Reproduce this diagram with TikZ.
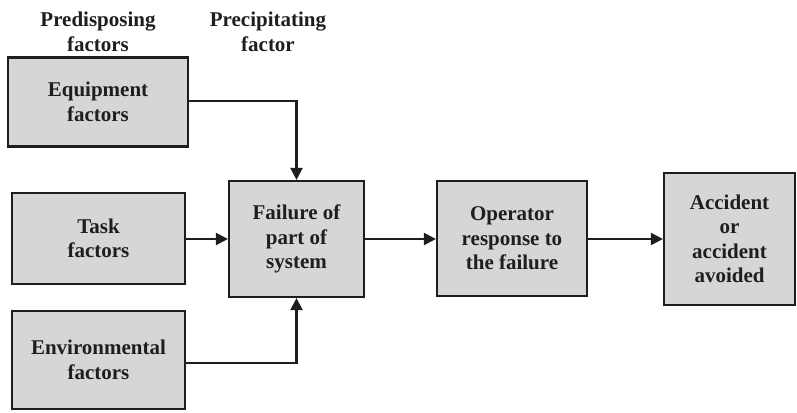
\documentclass[tikz,border=0pt]{standalone}
\usepackage{fontspec}
\setmainfont{Liberation Serif}
\usetikzlibrary{arrows.meta}
\definecolor{boxfill}{HTML}{D6D6D6}
\definecolor{ink}{HTML}{1E1E1E}
\begin{document}
\begin{tikzpicture}[x=1pt,y=-1pt,
  box/.style={draw=ink, line width=2.2pt, fill=boxfill, inner sep=0pt, align=center,
    font=\fontsize{21}{24.5}\selectfont\bfseries, text=ink},
  hdr/.style={align=center, font=\fontsize{21}{24.5}\selectfont\bfseries, text=ink},
  conn/.style={draw=ink, line width=2.2pt, -{Triangle[length=12pt,width=12pt]}}]
\useasboundingbox (0,0) rectangle (797,412);
\node[hdr] (pre) at (98,32) {Predisposing\\factors};
\node[hdr] (prec) at (268,32) {Precipitating\\factor};
\node[box, minimum width=180pt, minimum height=89pt] (equip) at (98,102) {Equipment\\factors};
\node[box, minimum width=173pt, minimum height=91pt] (task) at (98.5,238.5) {Task\\factors};
\node[box, minimum width=173pt, minimum height=98pt] (env) at (98.5,360) {Environmental\\factors};
\node[box, minimum width=135pt, minimum height=116pt] (fail) at (296.5,239) {Failure of\\part of\\system};
\node[box, minimum width=150pt, minimum height=115pt] (oper) at (512,238.5) {Operator\\response to\\the failure};
\node[box, minimum width=131pt, minimum height=132pt] (acc) at (729.5,239) {Accident\\or\\accident\\avoided};
\coordinate (eq) at (equip.east |- 0,101);
\coordinate (en) at (env.east |- 0,363);
\draw[conn] (eq) -| (fail.north);
\draw[conn] (task.east |- fail.west) -- (fail.west);
\draw[conn] (en) -| (fail.south);
\draw[conn] (fail.east) -- (oper.west |- fail.east);
\draw[conn] (oper.east |- fail.east) -- (acc.west |- fail.east);
\end{tikzpicture}
\end{document}
